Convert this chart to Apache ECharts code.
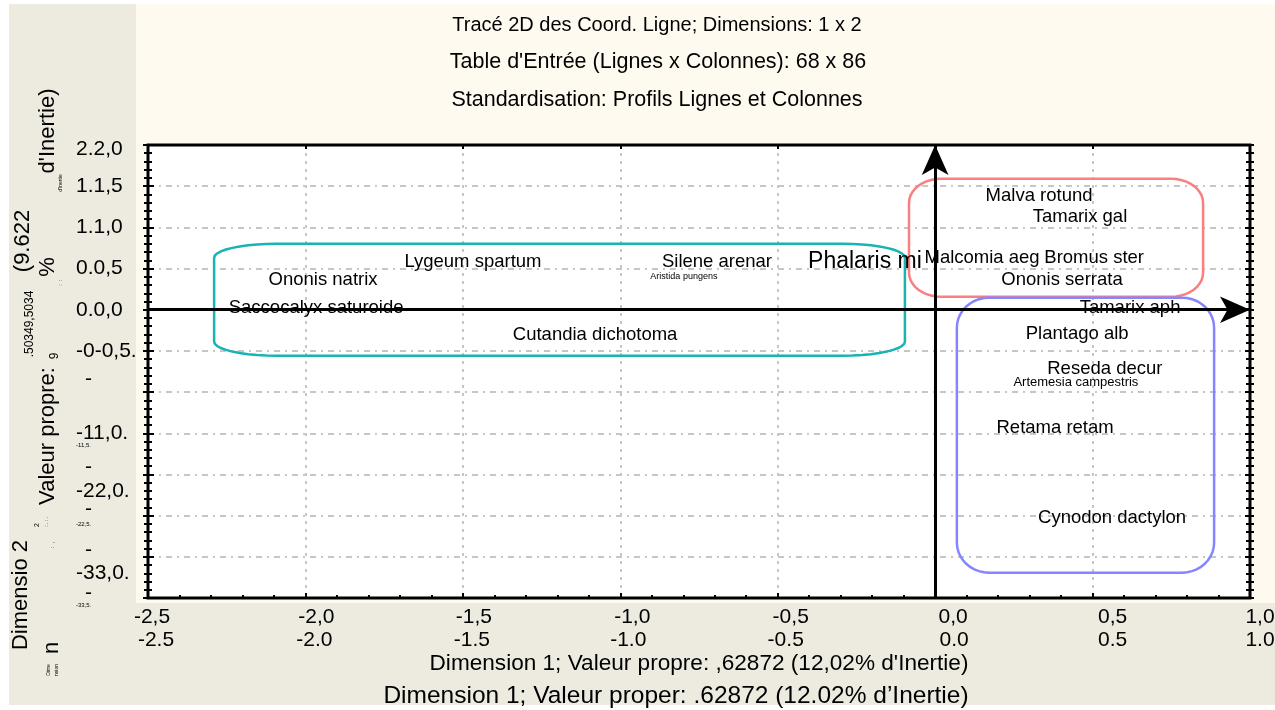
<!DOCTYPE html>
<html><head><meta charset="utf-8">
<script src="https://cdn.jsdelivr.net/npm/echarts@6/dist/echarts.min.js"></script>
<style>html,body{margin:0;padding:0;background:#fff}#c{width:1275px;height:710px}</style>
</head><body><div id="c"></div>
<script>
// ---------- data ----------
const speciesNames = ["Malva rotund","Tamarix gal","Malcomia aeg","Bromus ster","Ononis serrata","Tamarix aph","Plantago alb","Reseda decur","Retama retam","Cynodon dactylon","Silene arenar","Lygeum spartum","Ononis natrix","Saccocalyx saturoide","Cutandia dichotoma"];
const speciesX = [0.330,0.460,0.149,0.505,0.403,0.619,0.451,0.539,0.381,0.562,-0.693,-1.468,-1.944,-1.966,-1.080];
const speciesY = [1.380,1.130,0.625,0.625,0.360,0.024,-0.291,-0.716,-1.432,-2.524,0.583,0.583,0.364,0.024,-0.303];
const minorNames = ["Aristida pungens","Artemesia campestris"];
const minorX = [-0.798,0.447];
const minorY = [0.400,-0.886];
const majorNames = ["Phalaris mi"];
const majorX = [-0.223];
const majorY = [0.583];

const groupXMin = [-2.290,-0.083,0.069];
const groupXMax = [-0.096,0.851,0.886];
const groupYMax = [0.801,1.590,0.146];
const groupYMin = [-0.558,0.158,-3.192];

const xLabelsComma = ["-2,5","-2,0","-1,5","-1,0","-0,5","0,0","0,5","1,0"];
const xLabelsPoint = ["-2.5","-2.0","-1.5","-1.0","-0.5","0.0","0.5","1.0"];
const yLabelsMain = ["2.2,0","1.1,5","1.1,0","0.0,5","0.0,0","-0-0,5.","","-11,0.","-22,0.","","-33,0.",""];
const yLabelsDash = ["","","","","","","-","","-","-","-","-"];
const yLabelsTiny = ["","","","","","","","-11,5.","","-22,5.","","-33,5."];

const titleLines = ["Tracé 2D des Coord. Ligne; Dimensions: 1 x 2","Table d'Entrée (Lignes x Colonnes): 68 x 86","Standardisation: Profils Lignes et Colonnes"];
const xTitle1 = "Dimension 1; Valeur propre: ,62872 (12,02% d'Inertie)";
const xTitle2 = "Dimension 1; Valeur proper: .62872 (12.02% d\u2019Inertie)";

// ---------- styling ----------
const FONT = "'Liberation Sans', Arial, sans-serif";
const XMIN = -2.5, XMAX = 1.0, YMIN = -3.5, YMAX = 2.0, STEP = 0.5;
const gridColor = '#c6c6c6';
const boxColors = ['#19b3b3','#f88080','#8585ff'];
const boxCorner = [[62,14],[32,24],[32,30]];
const xShiftComma = [4,11,11,12,13,18,20,10];
const xShiftPoint = [8,9,9,8,8,19,20,10];
const yShiftMain = {0:4, 8:17, 10:16};
const yShiftDash = {6:-13, 8:-7, 9:-6, 10:-7, 11:-5};
const yShiftTiny = {7:12, 9:9, 11:7};

function yIdx(v){ return Math.round((YMAX - v)/STEP); }
function xIdx(v){ return Math.round((v - XMIN)/STEP); }
function makeRichY(shifts, size){
  const r = {};
  for (let i = 0; i < 12; i++){
    const s = shifts[i] || 0;
    r['k'+i] = {fontSize:size, fontFamily:FONT, color:'#000', padding: s>0 ? [2*s,0,0,0] : [0,0,-2*s,0]};
  }
  return r;
}
function yFmt(arr){ return function(v){ const i = yIdx(v); const t = arr[i]; return t ? '{k'+i+'|'+t+'}' : ''; }; }
const richX = {};
for (let i = 0; i < 8; i++){
  richX['a'+i] = {fontSize:21, fontFamily:FONT, color:'#000', lineHeight:23, padding:[0,0,0,2*xShiftComma[i]]};
  richX['b'+i] = {fontSize:21, fontFamily:FONT, color:'#000', lineHeight:23, padding:[0,0,0,2*xShiftPoint[i]]};
}

const noLine = {show:false, onZero:false};
const baseY = {type:'value', min:YMIN, max:YMAX, interval:STEP, gridIndex:0, axisLine:noLine, splitLine:{show:false}};
function yAxisOf(extra){ return Object.assign({}, baseY, extra); }
const tickStyle = {color:'#000', width:2};

const yAxes = [
  yAxisOf({position:'left', splitLine:{show:true, showMinLine:false, showMaxLine:false, lineStyle:{color:gridColor, width:2, type:[6,5,2,5]}},
    axisTick:{show:true, inside:false, length:5, lineStyle:tickStyle},
    minorTick:{show:true, splitNumber:5, length:4, lineStyle:tickStyle},
    axisLabel:{show:true, showMinLabel:true, showMaxLabel:true, align:'left', margin:72, formatter:yFmt(yLabelsMain), rich:makeRichY(yShiftMain,21)}}),
  yAxisOf({position:'left',
    axisTick:{show:true, inside:true, length:6, lineStyle:tickStyle},
    minorTick:{show:true, splitNumber:5, length:4, lineStyle:tickStyle},
    axisLabel:{show:true, showMinLabel:true, showMaxLabel:true, align:'left', margin:63, formatter:yFmt(yLabelsDash), rich:makeRichY(yShiftDash,21)}}),
  yAxisOf({position:'left', axisTick:{show:false},
    axisLabel:{show:true, showMinLabel:true, showMaxLabel:true, align:'left', margin:72, formatter:yFmt(yLabelsTiny), rich:makeRichY(yShiftTiny,6)}}),
  yAxisOf({position:'right',
    axisTick:{show:true, inside:false, length:4, lineStyle:tickStyle},
    minorTick:{show:true, splitNumber:5, length:4, lineStyle:tickStyle},
    axisLabel:{show:false}}),
  yAxisOf({position:'right',
    axisTick:{show:true, inside:true, length:5, lineStyle:tickStyle},
    minorTick:{show:true, splitNumber:5, length:4, lineStyle:tickStyle},
    axisLabel:{show:false}})
];

const xAxes = [
  {type:'value', position:'bottom', min:XMIN, max:XMAX, interval:STEP, axisLine:noLine,
   splitLine:{show:true, showMinLine:false, showMaxLine:false, lineStyle:{color:gridColor, width:2, type:[3,5]}},
   axisTick:{show:true, inside:true, length:5, lineStyle:tickStyle},
   minorTick:{show:true, splitNumber:5, length:3, lineStyle:tickStyle},
   axisLabel:{show:true, showMinLabel:true, showMaxLabel:true, margin:8,
     formatter:function(v){ const i = xIdx(v); return '{a'+i+'|'+xLabelsComma[i]+'}\n{b'+i+'|'+xLabelsPoint[i]+'}'; }, rich:richX}},
  {type:'value', position:'top', min:XMIN, max:XMAX, interval:STEP, axisLine:noLine, splitLine:{show:false},
   axisTick:{show:true, inside:true, length:4, lineStyle:tickStyle}, axisLabel:{show:false}}
];

function ellipseCornerPts(cx, cy, rx, ry, a0, a1){
  const pts = [];
  for (let k = 0; k <= 10; k++){
    const a = a0 + (a1 - a0)*k/10;
    pts.push([cx + rx*Math.cos(a), cy + ry*Math.sin(a)]);
  }
  return pts;
}
function renderBox(params, api){
  const p1 = api.coord([api.value(0), api.value(1)]);
  const p2 = api.coord([api.value(2), api.value(3)]);
  const x1 = Math.min(p1[0],p2[0]), x2 = Math.max(p1[0],p2[0]);
  const y1 = Math.min(p1[1],p2[1]), y2 = Math.max(p1[1],p2[1]);
  const c = boxCorner[params.dataIndex], rx = c[0], ry = c[1];
  let pts = [];
  pts = pts.concat(ellipseCornerPts(x2-rx, y1+ry, rx, ry, -Math.PI/2, 0));
  pts = pts.concat(ellipseCornerPts(x2-rx, y2-ry, rx, ry, 0, Math.PI/2));
  pts = pts.concat(ellipseCornerPts(x1+rx, y2-ry, rx, ry, Math.PI/2, Math.PI));
  pts = pts.concat(ellipseCornerPts(x1+rx, y1+ry, rx, ry, Math.PI, 1.5*Math.PI));
  pts.push(pts[0]);
  return {type:'polyline', shape:{points:pts}, style:{fill:null, stroke:boxColors[params.dataIndex], lineWidth:2.5}};
}

function labelSeries(names, xs, ys, size){
  return {type:'scatter', symbolSize:0, silent:true, z:5, itemStyle:{opacity:1},
    data: names.map((n,i)=>({name:n, value:[xs[i], ys[i]], label:{fontSize: typeof size==='function' ? size(n) : size}})),
    label:{show:true, position:'inside', color:'#000', opacity:1, fontFamily:FONT, formatter:p=>p.name}};
}
const minorSize = n => n === 'Artemesia campestris' ? 13 : 9;

const mainSeries = labelSeries(speciesNames, speciesX, speciesY, 18.5);
mainSeries.markLine = {silent:true, animation:false, symbol:['none','arrow'], symbolSize:[20,30],
  lineStyle:{color:'#000', width:3, type:'solid'}, label:{show:false},
  data:[[{coord:[0,YMIN]},{coord:[0,YMAX]}],[{coord:[XMIN,0]},{coord:[XMAX,0]}]]};

function gText(text, x, y, size, rot){
  return {type:'text', x:x, y:y, rotation: rot ? Math.PI/2 : 0, z:100, silent:true,
    style:{text:text, fill:'#000', font: size+'px ' + FONT, align:'center', verticalAlign:'middle'}};
}

const graphics = [
  {type:'rect', z:-10, silent:true, shape:{x:9,y:4,width:127,height:701}, style:{fill:'#edeae0'}},
  {type:'rect', z:-10, silent:true, shape:{x:136,y:4,width:1139,height:599}, style:{fill:'#fefaf0'}},
  {type:'rect', z:-10, silent:true, shape:{x:9,y:603,width:1266,height:102}, style:{fill:'#edeae0'}},
  gText(titleLines[0], 657, 25, 20),
  gText(titleLines[1], 658, 62, 21.5),
  gText(titleLines[2], 657, 100, 21.5),
  gText(xTitle1, 699, 664, 22.6),
  gText(xTitle2, 676, 696, 24.5),
  gText('Dimensio 2', 21, 595, 22, true),
  gText('n', 52, 648, 22, true),
  gText('Dime', 49, 670, 5, true),
  gText('nsion', 57, 670, 5, true),
  gText('Valeur propre:', 48, 436, 22, true),
  gText('9', 55, 356, 12, true),
  gText('.50349,5034', 30, 324, 12, true),
  gText('(9.622', 23, 241, 22, true),
  gText('%', 48, 267, 22, true),
  gText(':  :', 61, 283, 5, true),
  gText("d'Inertie)", 48, 131, 22, true),
  gText("d'Inertie", 61, 183, 5, true),
  gText('2', 37, 525, 7, true),
  gText(': . : .', 47, 522, 5, true),
  gText(':  ,', 52, 545, 6, true)
];

const chart = echarts.init(document.getElementById('c'), null, {renderer:'canvas'});
chart.setOption({
  animation:false,
  backgroundColor:'#ffffff',
  textStyle:{fontFamily:FONT},
  grid:{left:148, right:25, top:145, bottom:112, show:true, backgroundColor:'#ffffff', borderColor:'#000', borderWidth:3, containLabel:false, outerBoundsMode:'none'},
  xAxis:xAxes,
  yAxis:yAxes,
  graphic:{elements:graphics},
  series:[
    {type:'custom', renderItem:renderBox, silent:true, clip:false, z:3,
     data: groupXMin.map((v,i)=>[groupXMin[i], groupYMax[i], groupXMax[i], groupYMin[i]])},
    mainSeries,
    labelSeries(minorNames, minorX, minorY, minorSize),
    labelSeries(majorNames, majorX, majorY, 23)
  ]
});
</script></body></html>
